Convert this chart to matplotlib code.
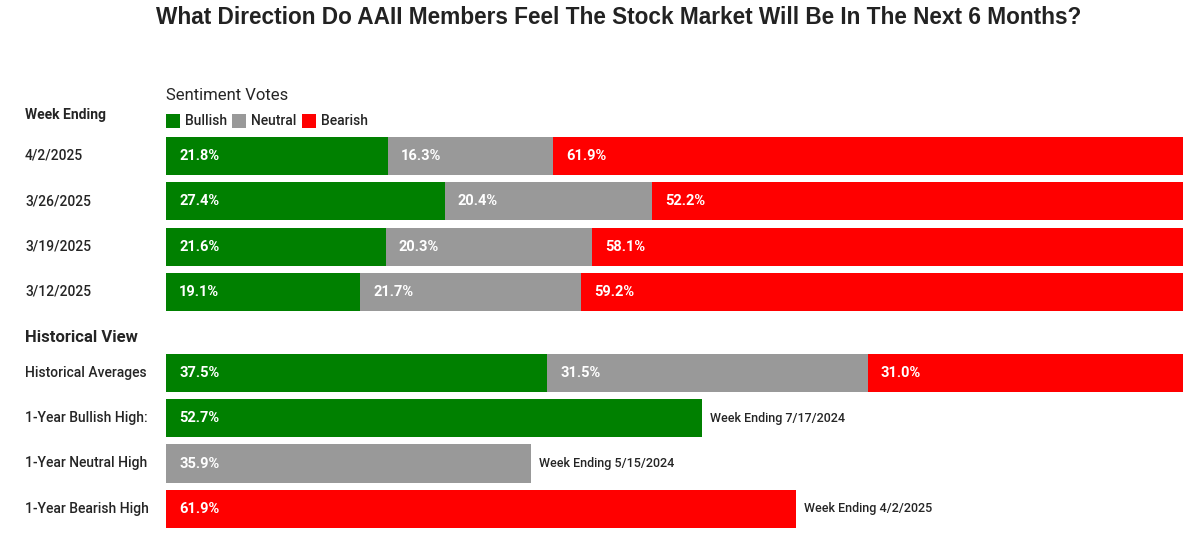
import matplotlib
matplotlib.use("Agg")
import matplotlib.pyplot as plt
from matplotlib.transforms import blended_transform_factory
from matplotlib.patches import Rectangle

# ---- data ----
weeks = ["4/2/2025", "3/26/2025", "3/19/2025", "3/12/2025"]
bullish = [21.8, 27.4, 21.6, 19.1]
neutral = [16.3, 20.4, 20.3, 21.7]
bearish = [61.9, 52.2, 58.1, 59.2]

hist_avg_label = "Historical Averages"
hist_avg = [37.5, 31.5, 31.0]  # bullish, neutral, bearish

high_labels = ["1-Year Bullish High:", "1-Year Neutral High", "1-Year Bearish High"]
high_values = [52.7, 35.9, 61.9]
high_dates = ["Week Ending 7/17/2024", "Week Ending 5/15/2024", "Week Ending 4/2/2025"]

series_names = ["Bullish", "Neutral", "Bearish"]
colors = ["#008000", "#999999", "#FF0000"]

FONT = ["Roboto", "DejaVu Sans"]
TXT = "#252525"

W, H = 1200, 537
fig = plt.figure(figsize=(W / 100, H / 100), dpi=100)
fig.patch.set_facecolor("white")

# axes geometry (pixels)
ax_left, ax_right = 166, 1183
ax_top, ax_bot = 130, 535
ax = fig.add_axes([ax_left / W, (H - ax_bot) / H, (ax_right - ax_left) / W, (ax_bot - ax_top) / H])
ax.set_axis_off()
ax.set_xlim(0, 100)
unit = 45.3
y0 = 156
ax.set_ylim((ax_bot - y0) / unit, (ax_top - y0) / unit)

bar_h = 0.84
week_y = [0, 1, 2, 3]
gap = 81 / unit
hist_y = [3 + gap + i for i in range(4)]

def seg_label(x, y, val):
    ax.annotate(f"{val:.1f}%", (x, y), xytext=(9.5, 0), textcoords="offset points",
                ha="left", va="center", color="white", fontsize=10.5, fontweight="bold",
                family=FONT)

# weekly stacked bars
for i, y in enumerate(week_y):
    left = 0
    for v, c in zip([bullish[i], neutral[i], bearish[i]], colors):
        ax.barh(y, v, left=left, height=bar_h, color=c, edgecolor="none")
        seg_label(left, y, v)
        left += v

# historical averages
left = 0
for v, c in zip(hist_avg, colors):
    ax.barh(hist_y[0], v, left=left, height=bar_h, color=c, edgecolor="none")
    seg_label(left, hist_y[0], v)
    left += v

# 1-year highs
for j, (v, d) in enumerate(zip(high_values, high_dates)):
    y = hist_y[j + 1]
    ax.barh(y, v, height=bar_h, color=colors[j], edgecolor="none")
    seg_label(0, y, v)
    ax.annotate(d, (v, y), xytext=(6, 0), textcoords="offset points", ha="left",
                va="center", color=TXT, fontsize=9, fontweight="medium", family=FONT)

# row labels
tr = blended_transform_factory(fig.transFigure, ax.transData)
for y, lab in zip(week_y, weeks):
    ax.text(25 / W, y, lab, transform=tr, ha="left", va="center", fontsize=10,
            fontweight="medium", color=TXT, family=FONT)
for y, lab in zip(hist_y, [hist_avg_label] + high_labels):
    ax.text(25 / W, y, lab, transform=tr, ha="left", va="center", fontsize=10,
            fontweight="medium", color=TXT, family=FONT)

# headers
def fy(py):
    return (H - py) / H

fig.text(25 / W, fy(115), "Week Ending", ha="left", va="center", fontsize=10,
         fontweight="bold", color=TXT, family=FONT)
fig.text(25 / W, fy(337), "Historical View", ha="left", va="center", fontsize=12,
         fontweight="bold", color=TXT, family=FONT)
fig.text(166 / W, fy(95), "Sentiment Votes", ha="left", va="center", fontsize=12,
         color=TXT, family=FONT)

# legend
lx = [166, 232, 302]
for x, name, c in zip(lx, series_names, colors):
    fig.patches.append(Rectangle((x / W, fy(128)), 14 / W, 14 / H, transform=fig.transFigure,
                                 facecolor=c, edgecolor="none"))
    fig.text((x + 19) / W, fy(121), name, ha="left", va="center", fontsize=10,
             fontweight="medium", color=TXT, family=FONT)

fig.text(619 / W, fy(18), "What Direction Do AAII Members Feel The Stock Market Will Be In The Next 6 Months?",
         ha="center", va="center", fontsize=16.3, fontweight="bold", color="#222222",
         family=["Liberation Sans", "DejaVu Sans"])

fig.savefig("out.png", dpi=100, facecolor="white")
